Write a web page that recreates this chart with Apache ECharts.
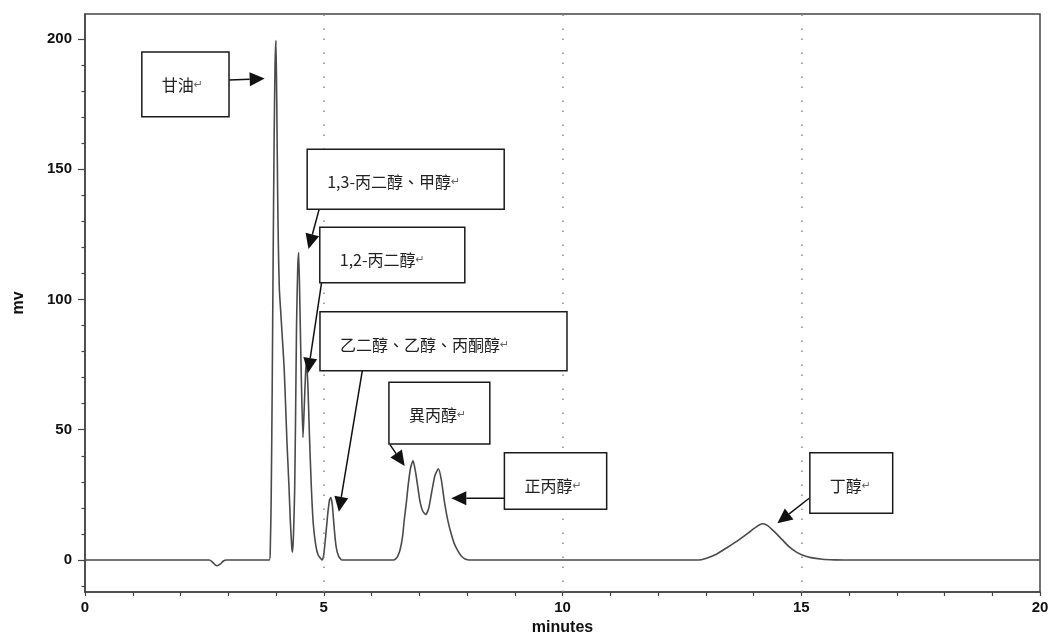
<!DOCTYPE html>
<html>
<head>
<meta charset="utf-8">
<script src="https://cdn.jsdelivr.net/npm/echarts@6/dist/echarts.min.js"></script>
<style>
  html, body { margin: 0; padding: 0; background: #fff; }
  #chart { width: 1050px; height: 636px; }
</style>
</head>
<body>
<div id="chart"></div>
<script>
// Chromatogram: retention time (minutes) vs detector signal (mV), one array per peak group.
const baselineStart = [[0, 0], [2.6, 0], [2.66, -0.6], [2.72, -1.8], [2.77, -2.2], [2.83, -1.6], [2.9, -0.4], [2.96, 0], [3.86, 0]];

// glycerol, 1,3-propanediol / methanol, 1,2-propanediol
const diolGroup = [
  [3.88, 4], [3.90, 25], [3.92, 65], [3.94, 115], [3.96, 160], [3.98, 190], [4.00, 199.5],
  [4.02, 168], [4.035, 140], [4.05, 120], [4.07, 104], [4.10, 95], [4.13, 86], [4.17, 74],
  [4.20, 60], [4.23, 45], [4.27, 29], [4.30, 15], [4.33, 5], [4.345, 3],
  [4.365, 9], [4.39, 26], [4.41, 55], [4.43, 90], [4.455, 112], [4.475, 118],
  [4.50, 98], [4.53, 70], [4.565, 47], [4.59, 58], [4.62, 72], [4.64, 76],
  [4.67, 66], [4.70, 48], [4.74, 28], [4.78, 14], [4.83, 6], [4.88, 2], [4.94, 0.5], [4.97, 0]
];

// ethylene glycol / ethanol / hydroxyacetone
const glycolPeak = [[5.0, 2], [5.04, 9], [5.08, 17], [5.12, 23], [5.15, 24], [5.18, 21], [5.22, 12], [5.26, 5], [5.31, 1.5], [5.38, 0], [6.46, 0]];

// isopropanol and n-propanol
const propanolGroup = [
  [6.5, 0.3], [6.55, 1.5], [6.6, 4], [6.65, 9], [6.69, 16], [6.73, 22], [6.77, 29], [6.82, 35.5], [6.87, 38.2],
  [6.92, 34], [6.97, 28], [7.02, 22], [7.08, 18.5], [7.14, 17.5], [7.2, 20], [7.26, 26], [7.33, 32.5], [7.40, 35],
  [7.46, 31], [7.53, 22], [7.60, 15], [7.67, 10], [7.74, 6], [7.81, 3.5], [7.88, 1.5], [7.95, 0.5], [8.05, 0], [12.85, 0]
];

// butanol
const butanolPeak = [
  [13.0, 0.6], [13.2, 2], [13.45, 4.8], [13.7, 7.8], [13.9, 10.5], [14.05, 12.6], [14.18, 13.9], [14.28, 13.4],
  [14.43, 11], [14.6, 7.8], [14.75, 5], [14.9, 3], [15.02, 1.9], [15.2, 0.9], [15.44, 0.3], [15.7, 0.05], [15.9, 0], [20, 0]
];

const yTickValues = [0, 50, 100, 150, 200];
const yMinorTickValues = [-10, 10, 20, 30, 40, 60, 70, 80, 90, 110, 120, 130, 140, 160, 170, 180, 190];
const xGridMinutes = [5, 10, 15];

// Callouts: box corners [x0, yTop, x1, yBottom] and arrow [from] -> [to], in axis units
const annotations = [
  { text: '甘油', box: [1.19, 195.0, 3.016, 170.2], from: [3.02, 184.3], to: [3.763, 184.8] },
  { text: '1,3-丙二醇、甲醇', box: [4.653, 157.7, 8.779, 134.6], from: [4.90, 134.4], to: [4.68, 119.4] },
  { text: '1,2-丙二醇', box: [4.917, 127.7, 7.954, 106.4], from: [4.953, 106.3], to: [4.67, 71.8] },
  { text: '乙二醇、乙醇、丙酮醇', box: [4.921, 95.3, 10.094, 72.6], from: [5.807, 72.6], to: [5.316, 18.5] },
  { text: '異丙醇', box: [6.365, 68.2, 8.478, 44.5], from: [6.386, 44.3], to: [6.695, 36.1] },
  { text: '正丙醇', box: [8.783, 41.2, 10.925, 19.5], from: [8.783, 23.7], to: [7.671, 23.7] },
  { text: '丁醇', box: [15.18, 41.2, 16.915, 17.9], from: [15.166, 23.7], to: [14.50, 14.1] }
];

const trace = [].concat(baselineStart, diolGroup, glycolPeak, propanolGroup, butanolPeak);

const axisFont = { fontFamily: 'Liberation Sans, Arial, sans-serif', fontWeight: 'bold', color: '#111' };
const yMin = -12.3, yMax = 209.6;

const chart = echarts.init(document.getElementById('chart'), null, { renderer: 'canvas' });
chart.setOption({
  animation: false,
  backgroundColor: '#fff',
  grid: {
    left: 85, right: 10, top: 14, bottom: 44,
    containLabel: false, outerBoundsMode: 'none',
    show: true, borderColor: '#444', borderWidth: 1.5, backgroundColor: '#fff'
  },
  xAxis: {
    type: 'value', min: 0, max: 20, interval: 5,
    name: 'minutes', nameLocation: 'middle', nameGap: 27,
    nameTextStyle: Object.assign({ fontSize: 16 }, axisFont),
    axisLine: { show: true, onZero: false, lineStyle: { color: '#444', width: 1.5 } },
    axisTick: { show: true, length: 4, lineStyle: { color: '#444', width: 1.2 } },
    minorTick: { show: true, splitNumber: 5, length: 4, lineStyle: { color: '#444', width: 1.2 } },
    axisLabel: Object.assign({ fontSize: 15, margin: 8 }, axisFont),
    splitLine: { show: false }
  },
  yAxis: [
    {
      type: 'value', min: yMin, max: yMax,
      name: 'mv', nameLocation: 'middle', nameGap: 58, nameRotate: 90,
      nameTextStyle: Object.assign({ fontSize: 16 }, axisFont),
      axisLine: { show: true, onZero: false, lineStyle: { color: '#444', width: 1.5 } },
      axisTick: { show: true, length: 7, customValues: yTickValues, lineStyle: { color: '#444', width: 1.2 } },
      axisLabel: Object.assign({ fontSize: 15, margin: 13, customValues: yTickValues }, axisFont),
      splitLine: { show: false }
    },
    {
      type: 'value', min: yMin, max: yMax, position: 'left',
      axisLine: { show: false },
      axisTick: { show: true, length: 3.5, customValues: yMinorTickValues, lineStyle: { color: '#444', width: 1.2 } },
      axisLabel: { show: false },
      splitLine: { show: false }
    }
  ],
  series: [{
    type: 'line',
    data: trace,
    xAxisIndex: 0, yAxisIndex: 0,
    showSymbol: false,
    smooth: 0.2,
    lineStyle: { color: '#4a4a4a', width: 1.6 },
    z: 3,
    markLine: {
      silent: true, symbol: 'none', label: { show: false },
      lineStyle: { color: '#8a8a8a', width: 1.5, type: [1.5, 8.5, 1.5, 12.5] },
      data: xGridMinutes.map(v => ({ xAxis: v }))
    }
  }]
});

// Callout boxes with arrows, placed from axis units
function toPx(p) { return chart.convertToPixel({ xAxisIndex: 0, yAxisIndex: 0 }, p); }
const elements = [];
annotations.forEach(a => {
  const tl = toPx([a.box[0], a.box[1]]);
  const br = toPx([a.box[2], a.box[3]]);
  elements.push({
    type: 'rect', z: 20,
    shape: { x: tl[0], y: tl[1], width: br[0] - tl[0], height: br[1] - tl[1] },
    style: { fill: '#fff', stroke: '#1a1a1a', lineWidth: 1.5 }
  });
  elements.push({
    type: 'text', z: 21, x: tl[0] + 20, y: tl[1] + 33,
    style: {
      text: a.text + '{ret|↵}',
      fill: '#222', fontSize: 16, fontFamily: 'Noto Sans CJK TC, Noto Sans CJK SC, sans-serif',
      verticalAlign: 'middle', align: 'left',
      rich: { ret: { fontSize: 11, fill: '#666', fontFamily: 'DejaVu Sans, sans-serif' } }
    }
  });
  const s = toPx(a.from), t = toPx(a.to);
  const dx = t[0] - s[0], dy = t[1] - s[1];
  const L = Math.hypot(dx, dy), ux = dx / L, uy = dy / L;
  const headLen = 15, headHalf = 7;
  const bx = t[0] - ux * headLen, by = t[1] - uy * headLen;
  elements.push({
    type: 'line', z: 20,
    shape: { x1: s[0], y1: s[1], x2: bx, y2: by },
    style: { stroke: '#111', lineWidth: 1.5 }
  });
  elements.push({
    type: 'polygon', z: 20,
    shape: { points: [[t[0], t[1]], [bx - uy * headHalf, by + ux * headHalf], [bx + uy * headHalf, by - ux * headHalf]] },
    style: { fill: '#111' }
  });
});
chart.setOption({ graphic: elements });
</script>
</body>
</html>
